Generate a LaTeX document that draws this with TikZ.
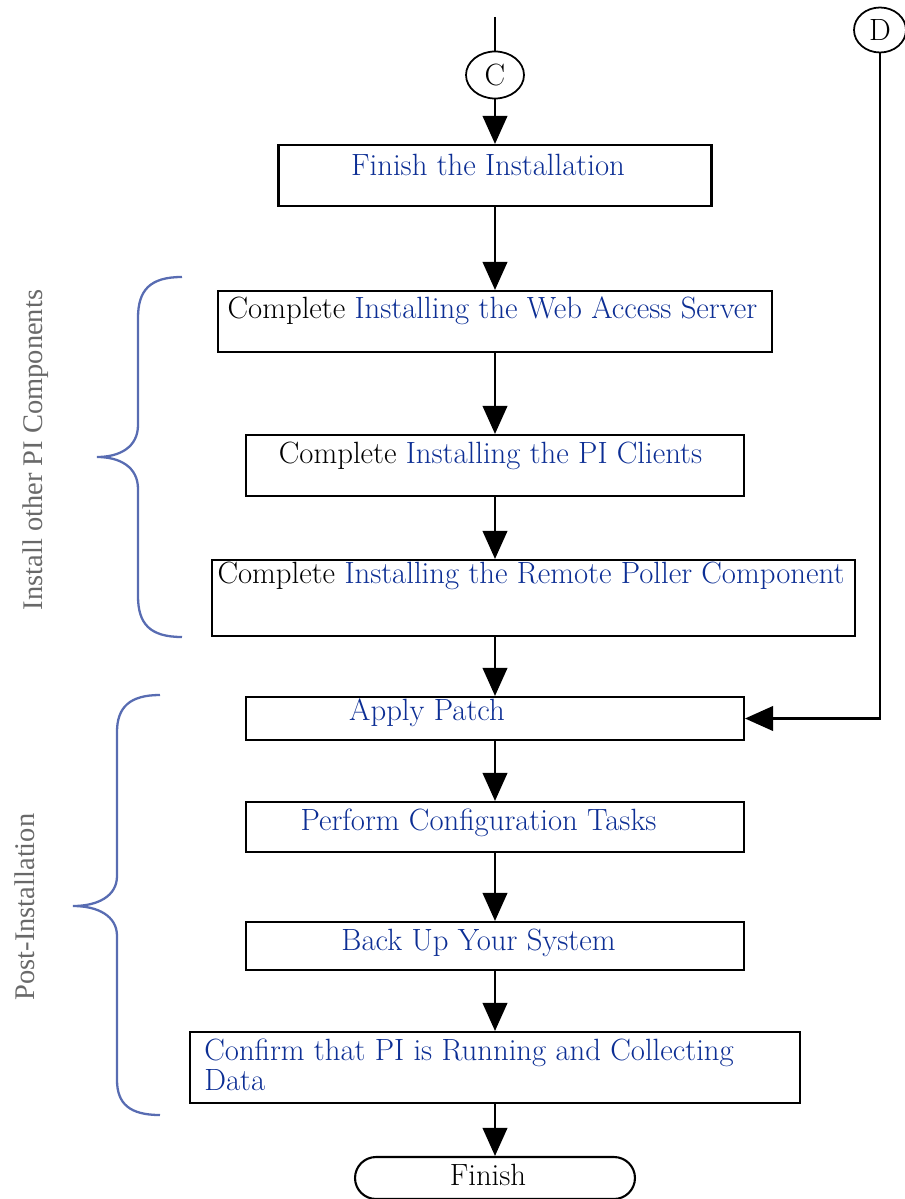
\documentclass[tikz,border=0pt]{standalone}
\usepackage{fontspec}
\usetikzlibrary{arrows.meta,shapes.misc,shapes.geometric}
\newfontfamily\sidefont{Liberation Serif}
\definecolor{linkblue}{RGB}{12,46,148}
\definecolor{braceblue}{RGB}{88,108,178}
\definecolor{sidegray}{RGB}{105,105,105}
\newcommand{\stepfont}{\fontsize{17.5}{17}\selectfont}
\newcommand{\lnk}[1]{\textcolor{linkblue}{#1}}

\begin{document}
\begin{tikzpicture}[x=0.02cm, y=-0.02cm,
  stepbox/.style={draw, line width=1.2pt, inner sep=0pt},
  steptext/.style={inner sep=0pt, font=\stepfont},
  flow/.style={line width=1.3pt, -{Triangle[width=14pt,length=16pt]}},
  conn/.style={draw, ellipse, line width=1pt, inner sep=0pt, font=\stepfont},
  bracepath/.style={braceblue, line width=1.3pt},
  sidelabel/.style={rotate=90, inner sep=0pt, text=sidegray, font=\sidefont\fontsize{16.2}{17}\selectfont},
]
  \useasboundingbox (0,0) rectangle (905,1199);

  % connectors C and D
  \coordinate (top) at (495,17);
  \node[conn, minimum width=1.16cm, minimum height=0.94cm] (C) at (495,75) {C};
  \node[conn, minimum width=1.04cm, minimum height=0.9cm] (D) at (880,30) {D};

  % boxes
  \node[stepbox, minimum width=8.66cm, minimum height=1.22cm] (fin) at (495,175.5) {};
  \node[stepbox, minimum width=11.08cm, minimum height=1.22cm] (web) at (495,321.5) {};
  \node[stepbox, minimum width=9.96cm, minimum height=1.22cm] (cli) at (495,465.5) {};
  \node[stepbox, minimum width=12.86cm, minimum height=1.52cm] (pol) at (533.5,598) {};
  \node[stepbox, minimum width=9.96cm, minimum height=0.86cm] (pat) at (495,718.5) {};
  \node[stepbox, minimum width=9.96cm, minimum height=1.0cm] (cfg) at (495,827) {};
  \node[stepbox, minimum width=9.96cm, minimum height=0.96cm] (bak) at (495,946) {};
  \node[stepbox, minimum width=12.2cm, minimum height=1.42cm] (cnf) at (495,1067.5) {};
  \node[stepbox, rounded rectangle, minimum width=5.6cm, minimum height=0.84cm] (end) at (495,1178) {};

  % texts
  \node[steptext] (fint) at (488,165) {\lnk{Finish the Installation}};
  \node[steptext] (webt) at (492.5,311) {Complete \lnk{Installing the Web Access Server}};
  \node[steptext] (clit) at (490.5,456) {Complete \lnk{Installing the PI Clients}};
  \node[steptext] (polt) at (531,576) {Complete \lnk{Installing the Remote Poller Component}};
  \node[steptext] (patt) at (427,713) {\lnk{Apply Patch}};
  \node[steptext] (cfgt) at (478.5,823) {\lnk{Perform Configuration Tasks}};
  \node[steptext] (bakt) at (478.5,943) {\lnk{Back Up Your System}};
  \node[steptext, anchor=west, align=left] (cnft) at (204,1065)
    {\lnk{Confirm that PI is Running and Collecting}\\\lnk{Data}};
  \node[steptext] (endt) at (488,1175) {Finish};

  % flow
  \draw[line width=1.3pt] (top) -- (C.north);
  \draw[flow] (C.south) -- (fin.north);
  \draw[flow] (fin.south) -- (web.north);
  \draw[flow] (web.south) -- (cli.north);
  \draw[flow] (cli.south) -- (cli.south |- pol.north);
  \draw[flow] (pol.south -| pat.north) -- (pat.north);
  \draw[flow] (pat.south) -- (cfg.north);
  \draw[flow] (cfg.south) -- (bak.north);
  \draw[flow] (bak.south) -- (cnf.north);
  \draw[flow] (cnf.south) -- (end.north);
  \draw[flow] (D.south) |- (pat.east);

  % braces
  \draw[bracepath] (182,277) .. controls (150,277) and (138,290) .. (138,318)
    -- (138,425) .. controls (138,447) and (120,457) .. (97,457)
    .. controls (120,457) and (138,467) .. (138,489)
    -- (138,596) .. controls (138,624) and (150,637) .. (182,637);
  \draw[bracepath] (160,695) .. controls (130,695) and (117,707) .. (117,732)
    -- (117,876) .. controls (117,896) and (98,906) .. (73,906)
    .. controls (98,906) and (117,916) .. (117,936)
    -- (117,1080) .. controls (117,1104) and (130,1115) .. (160,1115);

  % side labels
  \node[sidelabel] (instlbl) at (36,450) {Install other PI Components};
  \node[sidelabel] (postlbl) at (25,907) {Post-Installation};
\end{tikzpicture}
\end{document}
